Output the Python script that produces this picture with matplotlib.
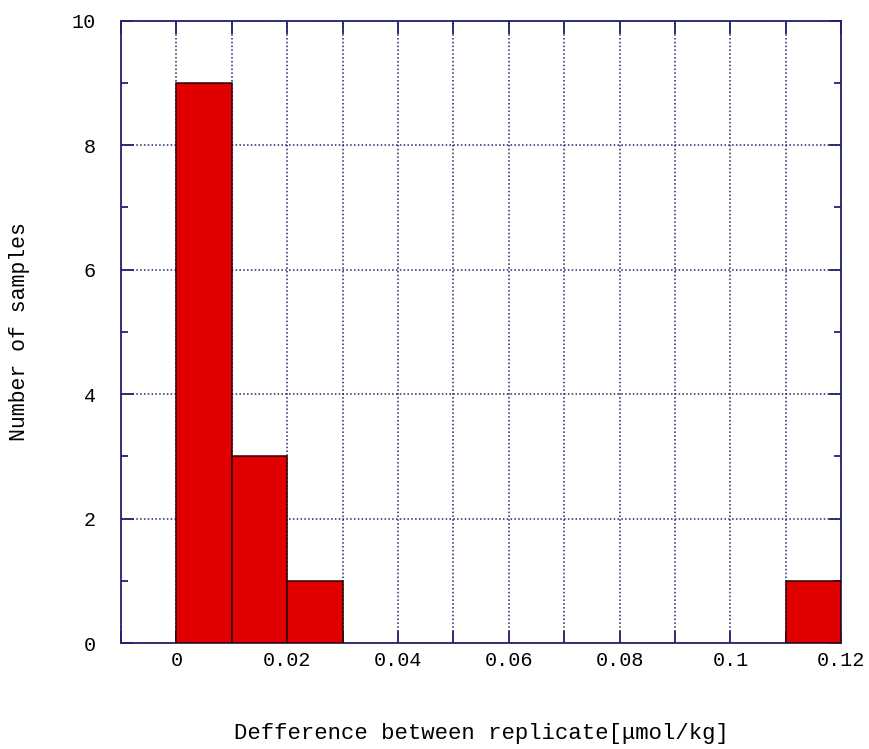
import matplotlib.pyplot as plt
import numpy as np
from matplotlib.ticker import MultipleLocator

# Histogram bins (left edges) and counts
bin_left = [0.00, 0.01, 0.02, 0.11]
counts = [9, 3, 1, 1]
bin_width = 0.01

navy = '#22226e'
plt.rcParams['font.family'] = ['Liberation Mono', 'Noto Sans CJK JP', 'DejaVu Sans']

fig = plt.figure(figsize=(8.7, 7.49), dpi=100)
ax = fig.add_axes([0.139, 0.1415, 0.828, 0.831])

ax.bar(bin_left, counts, width=bin_width, align='edge',
       color='#e00000', edgecolor='#2a0000', linewidth=1.1, zorder=3)

ax.set_xlim(-0.01, 0.12)
ax.set_ylim(0, 10)

ax.yaxis.set_major_locator(MultipleLocator(2))
ax.yaxis.set_minor_locator(MultipleLocator(1))

xt = np.arange(-0.01, 0.1201, 0.01)
ax.set_xticks(xt)
ax.set_xticklabels(['' if (round(v * 100) % 2 or v < 0) else ('0' if abs(v) < 1e-9 else f'{v:g}') for v in xt])

ax.grid(True, which='major', color=navy, linestyle=(0, (1, 1.5)), linewidth=1.1, zorder=1)

for s in ax.spines.values():
    s.set_color(navy)
    s.set_linewidth(1.3)

ax.tick_params(which='both', direction='in', top=True, right=True, color=navy,
               labelsize=14.5)
ax.tick_params(axis='x', pad=6)
ax.tick_params(axis='y', pad=18)
ax.tick_params(which='major', length=9, width=1.3)
ax.tick_params(which='minor', length=5, width=1.3)

ax.set_xlabel('Defference between replicate[\u03bcmol/kg]', fontsize=16, labelpad=38)
ax.set_ylabel('Number of samples', fontsize=15.5, labelpad=30)

fig.savefig('out.png', dpi=100)
